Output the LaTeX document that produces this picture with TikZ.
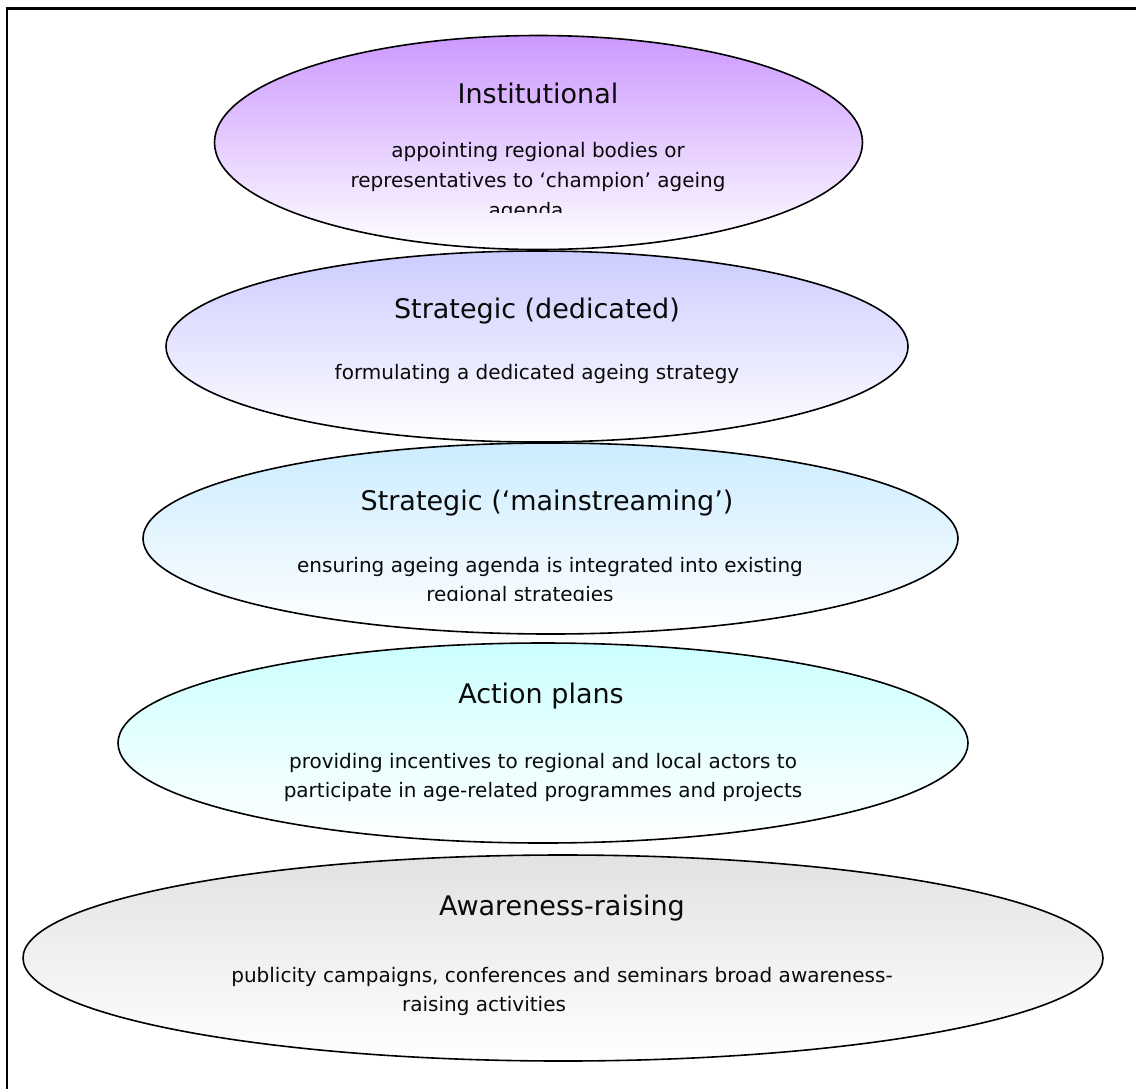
\documentclass[tikz,border=0pt]{standalone}
\usepackage{fontspec}
\setmainfont{DejaVu Sans}
\usetikzlibrary{shapes.geometric}
\definecolor{cA}{RGB}{204,153,255}
\definecolor{cB}{RGB}{204,204,255}
\definecolor{cC}{RGB}{204,236,255}
\definecolor{cD}{RGB}{204,255,255}
\definecolor{cE}{RGB}{226,226,226}
\definecolor{txt}{RGB}{10,10,10}
\begin{document}
\begin{tikzpicture}[x=1pt,y=1pt,
  layer/.style={ellipse, draw=black, line width=1.6pt, inner sep=0pt, top color=#1, bottom color=white},
  head/.style={font=\fontsize{27}{32}\selectfont, inner sep=0pt, anchor=base, text=txt},
  body/.style={font=\fontsize{20}{29.5}\selectfont, inner sep=0pt, anchor=base, text=txt}]
\useasboundingbox (0,0) rectangle (1136,-1088);
\fill[white] (0,0) rectangle (1136,-1088);
\draw[line width=3pt] (7,-8) -- (1140,-8);
\draw[line width=2pt] (7,-6.5) -- (7,-1092);
% layers
\node[layer=cA, minimum width=648, minimum height=214] (e1) at (538.5,-142.5) {};
\node[layer=cB, minimum width=742, minimum height=191] (e2) at (537,-346.5) {};
\node[layer=cC, minimum width=815, minimum height=191] (e3) at (550.5,-538.5) {};
\node[layer=cD, minimum width=850, minimum height=200] (e4) at (543,-743) {};
\node[layer=cE, minimum width=1080, minimum height=206] (e5) at (563,-958) {};
% texts
\node[head] (h1) at (538,-103) {Institutional};
\node[body] (b1a) at (538,-157) {appointing regional bodies or};
\node[body] (b1b) at (538,-187) {representatives to ‘champion’ ageing};
\begin{scope}
\clip (0,0) rectangle (1136,-212);
\node[body] (b1c) at (526,-217) {agenda};
\end{scope}
\node[head] (h2) at (537,-318) {Strategic (dedicated)};
\node[body] (b2a) at (537,-379) {formulating a dedicated ageing strategy};
\node[head] (h3) at (547,-510) {Strategic (‘mainstreaming’)};
\node[body] (b3a) at (550,-572) {ensuring ageing agenda is integrated into existing};
\begin{scope}
\clip (0,-440) rectangle (1136,-600);
\node[body] (b3b) at (520,-601) {regional strategies};
\end{scope}
\node[head] (h4) at (541,-703) {Action plans};
\node[body] (b4a) at (543,-768) {providing incentives to regional and local actors to};
\node[body] (b4b) at (543,-797) {participate in age-related programmes and projects};
\node[head] (h5) at (562,-915) {Awareness-raising};
\node[body] (b5a) at (562,-982) {publicity campaigns, conferences and seminars broad awareness-};
\node[body] (b5b) at (484,-1011) {raising activities};
\end{tikzpicture}
\end{document}
